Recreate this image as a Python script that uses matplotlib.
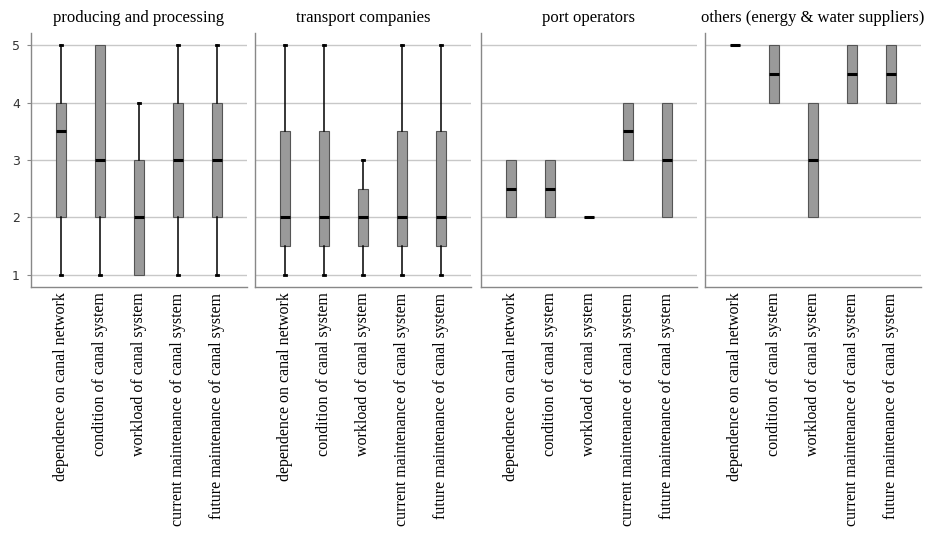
import matplotlib
matplotlib.use("Agg")
import matplotlib.pyplot as plt

plt.rcParams.update({
    "font.family": "Liberation Serif",
    "font.size": 12,
})

groups = ["producing and processing", "transport companies",
          "port operators", "others (energy & water suppliers)"]
items = ["dependence on canal network", "condition of canal system",
         "workload of canal system", "current maintenance of canal system",
         "future maintenance of canal system"]

# (whislo, q1, med, q3, whishi) per item, one list per group
producing = [(1, 2, 3.5, 4, 5), (1, 2, 3, 5, 5), (1, 1, 2, 3, 4),
             (1, 2, 3, 4, 5), (1, 2, 3, 4, 5)]
transport = [(1, 1.5, 2, 3.5, 5), (1, 1.5, 2, 3.5, 5), (1, 1.5, 2, 2.5, 3),
             (1, 1.5, 2, 3.5, 5), (1, 1.5, 2, 3.5, 5)]
ports = [(2, 2, 2.5, 3, 3), (2, 2, 2.5, 3, 3), (2, 2, 2, 2, 2),
         (3, 3, 3.5, 4, 4), (2, 2, 3, 4, 4)]
others = [(5, 5, 5, 5, 5), (4, 4, 4.5, 5, 5), (2, 2, 3, 4, 4),
          (4, 4, 4.5, 5, 5), (4, 4, 4.5, 5, 5)]
all_stats = [producing, transport, ports, others]

fig = plt.figure(figsize=(9.29, 5.33), dpi=100)
lefts = [31, 255, 481, 705]
axw = 216 / 929
bottom = 1 - 287 / 533
height = (287 - 33) / 533

for k, (name, stats) in enumerate(zip(groups, all_stats)):
    ax = fig.add_axes([lefts[k] / 929, bottom, axw, height])
    bx = []
    for lab, (lo, q1, md, q3, hi) in zip(items, stats):
        bx.append({"whislo": lo, "q1": q1, "med": md, "q3": q3,
                   "whishi": hi, "fliers": [], "label": lab})
    parts = ax.bxp(bx, positions=range(1, 6), widths=0.28, patch_artist=True,
                   showfliers=False,
                   boxprops=dict(facecolor="#9a9a9a", edgecolor="#555555", linewidth=0.8),
                   medianprops=dict(color="black", linewidth=2.2),
                   whiskerprops=dict(color="black", linewidth=1.1),
                   capprops=dict(color="black", linewidth=2.0),
                   capwidths=0.06)
    # no cap where the whisker has zero length
    for i, (lo, q1, md, q3, hi) in enumerate(stats):
        if lo == q1:
            parts["caps"][2 * i].set_visible(False)
        if hi == q3:
            parts["caps"][2 * i + 1].set_visible(False)
    ax.set_xlim(0.23, 5.77)
    ax.set_ylim(0.79, 5.21)
    ax.set_yticks([1, 2, 3, 4, 5])
    ax.yaxis.grid(True, color="#c8c8c8", linewidth=1.0)
    ax.set_axisbelow(True)
    for s in ["top", "right"]:
        ax.spines[s].set_visible(False)
    for s in ["left", "bottom"]:
        ax.spines[s].set_color("#888888")
        ax.spines[s].set_linewidth(1.0)
    ax.tick_params(axis="x", length=0, pad=4)
    ax.set_xticklabels(items, rotation=90, va="top", ha="center", fontsize=11.5)
    if k == 0:
        ax.tick_params(axis="y", length=3, color="#888888", pad=5)
        for t in ax.get_yticklabels():
            t.set_fontfamily("DejaVu Sans")
            t.set_fontsize(9)
            t.set_color("#333333")
    else:
        ax.tick_params(axis="y", length=0, labelleft=False)
    ax.set_title(name, fontsize=12, pad=8)

fig.savefig("out.png", dpi=100)
